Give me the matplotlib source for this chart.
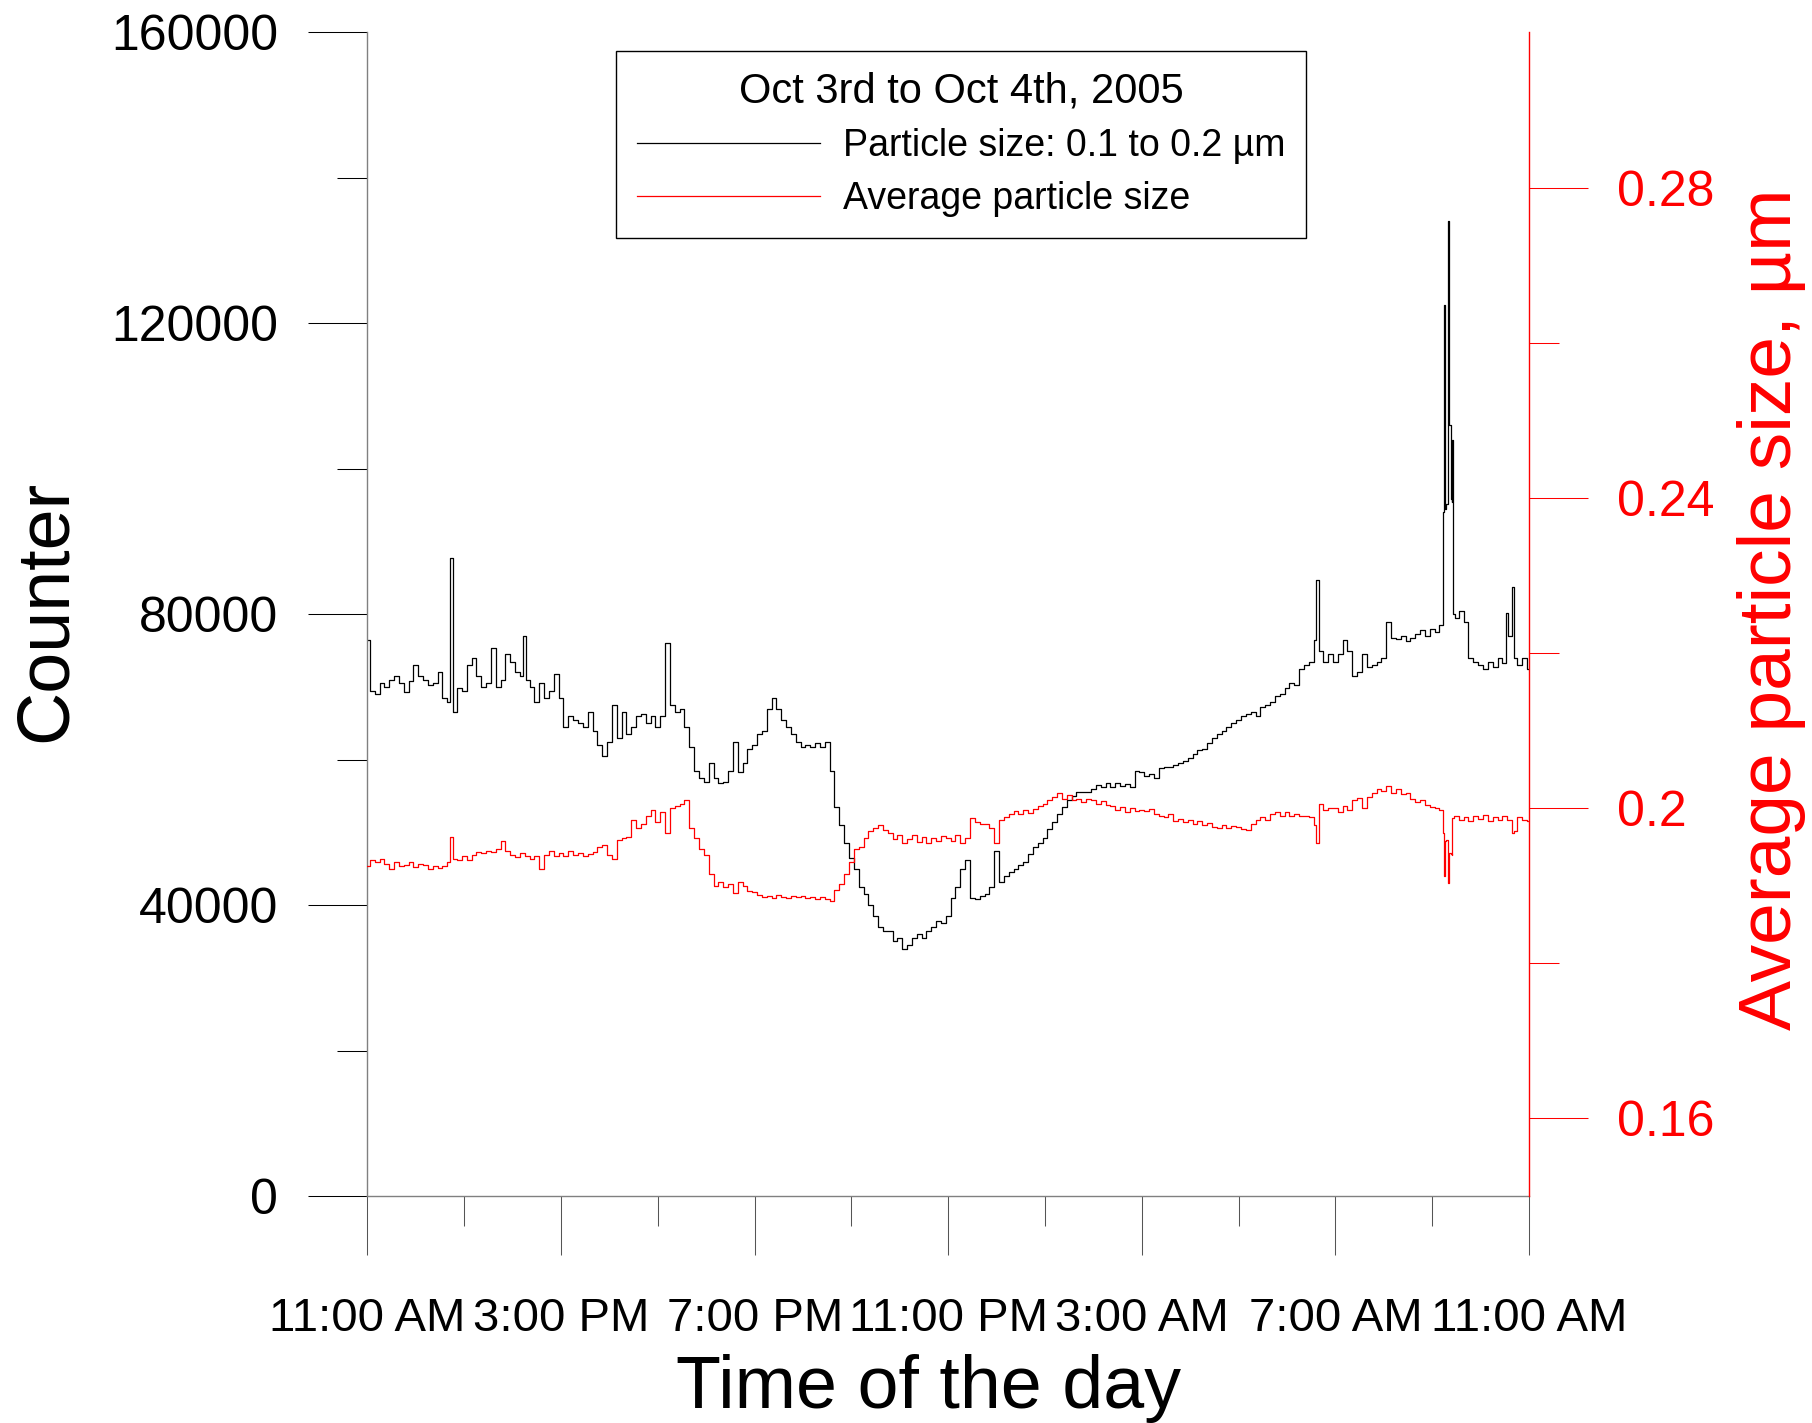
import matplotlib
matplotlib.use('Agg')
import matplotlib.pyplot as plt
import numpy as np

plt.rcParams['font.family'] = ['Liberation Sans', 'DejaVu Sans']

# hours after 11:00 AM (Oct 3rd), one reading every 6 minutes
hours = np.round(np.arange(0, 24.01, 0.1), 1)

# particle count 0.1-0.2 um, in thousands
counter_k = [
    76.5, 69.5, 69.0, 70.5, 70.0, 71.0, 71.5, 70.5, 69.3, 70.8,
    73.0, 71.5, 71.0, 70.3, 70.5, 72.0, 68.5, 68.0, 66.5, 69.8,
    69.5, 73.0, 74.0, 71.5, 70.0, 70.5, 75.3, 70.0, 71.0, 74.6,
    73.5, 72.0, 71.5, 71.0, 70.0, 68.0, 70.5, 68.5, 69.5, 71.8,
    68.5, 64.5, 66.0, 65.5, 65.0, 64.5, 66.5, 64.0, 62.0, 60.5,
    62.5, 67.5, 63.0, 66.5, 63.5, 64.5, 66.0, 66.3, 65.0, 66.0,
    64.5, 66.0, 76.0, 67.5, 66.5, 67.0, 64.5, 61.8, 58.5, 57.5,
    57.0, 59.5, 57.5, 56.8, 57.0, 58.5, 62.5, 58.3, 59.5, 61.5,
    62.0, 63.5, 64.0, 67.0, 68.5, 67.0, 65.5, 64.5, 63.5, 62.5,
    61.8, 62.0, 61.8, 62.3, 61.7, 62.5, 58.5, 53.5, 51.0, 48.5,
    46.5, 45.0, 42.5, 41.5, 40.0, 38.5, 37.0, 36.5, 36.5, 35.0,
    35.5, 34.0, 34.5, 35.5, 36.0, 35.5, 36.5, 37.0, 37.8, 37.5,
    38.5, 41.0, 42.5, 45.0, 46.2, 41.0, 40.8, 41.2, 41.5, 42.5,
    47.5, 43.2, 44.0, 44.5, 45.0, 45.5, 46.0, 47.0, 48.0, 48.5,
    49.3, 50.5, 51.5, 52.5, 53.5, 54.5, 55.0, 55.5, 55.5, 55.6,
    56.0, 56.5, 56.3, 56.8, 56.3, 56.8, 56.4, 56.6, 56.2, 58.5,
    58.3, 57.8, 58.0, 57.5, 58.8, 59.0, 59.0, 59.3, 59.6, 59.8,
    60.3, 60.8, 61.3, 61.5, 62.3, 63.0, 63.6, 64.0, 64.5, 65.0,
    65.5, 66.0, 66.3, 66.5, 66.0, 67.3, 67.5, 68.0, 68.7, 69.0,
    69.8, 70.5, 70.3, 72.5, 73.0, 73.5, 76.5, 75.0, 73.5, 74.5,
    73.5, 74.5, 76.5, 75.0, 71.5, 72.0, 74.5, 72.8, 73.0, 73.5,
    74.0, 78.9, 76.8, 76.6, 77.0, 76.3, 76.8, 77.3, 77.8, 77.0,
    78.0, 77.5, 78.5, 95.2, 95.8, 79.5, 80.5, 79.0, 74.0, 73.5,
    73.0, 72.5, 73.5, 72.8, 74.0, 73.3, 77.0, 74.0, 73.0, 74.0,
    72.5,
]

# short spikes between the regular readings
spike_hours = [1.73, 3.24, 19.61, 22.24, 22.26, 22.28, 22.34, 22.36, 22.40, 22.42, 22.44, 23.54, 23.69]
spike_k = [87.7, 77.0, 84.7, 94.0, 122.5, 94.5, 134.1, 106.0, 95.5, 104.0, 80.0, 80.2, 83.7]

# average particle size, um
avg_size = [
    0.1925, 0.1933, 0.1930, 0.1934, 0.1928, 0.1922, 0.1930, 0.1925, 0.1927, 0.1931,
    0.1924, 0.1928, 0.1927, 0.1922, 0.1925, 0.1923, 0.1926, 0.1930, 0.1935, 0.1933,
    0.1938, 0.1933, 0.1940, 0.1944, 0.1942, 0.1945, 0.1943, 0.1948, 0.1958, 0.1945,
    0.1940, 0.1937, 0.1942, 0.1938, 0.1935, 0.1938, 0.1922, 0.1940, 0.1945, 0.1938,
    0.1942, 0.1938, 0.1945, 0.1940, 0.1942, 0.1938, 0.1941, 0.1944, 0.1950, 0.1952,
    0.1940, 0.1935, 0.1959, 0.1962, 0.1963, 0.1985, 0.1975, 0.1980, 0.1990, 0.1998,
    0.1982, 0.1995, 0.1968, 0.2000, 0.2003, 0.2005, 0.2011, 0.1975, 0.1962, 0.1948,
    0.1940, 0.1915, 0.1900, 0.1905, 0.1898, 0.1902, 0.1890, 0.1905, 0.1900, 0.1893,
    0.1892, 0.1888, 0.1885, 0.1887, 0.1884, 0.1888, 0.1886, 0.1884, 0.1887, 0.1885,
    0.1887, 0.1884, 0.1886, 0.1883, 0.1886, 0.1883, 0.1880, 0.1895, 0.1902, 0.1915,
    0.1930, 0.1948, 0.1950, 0.1962, 0.1970, 0.1975, 0.1978, 0.1972, 0.1968, 0.1960,
    0.1965, 0.1955, 0.1960, 0.1966, 0.1957, 0.1963, 0.1955, 0.1962, 0.1958, 0.1964,
    0.1962, 0.1958, 0.1965, 0.1955, 0.1962, 0.1987, 0.1982, 0.1980, 0.1979, 0.1975,
    0.1955, 0.1985, 0.1988, 0.1993, 0.1996, 0.1992, 0.1998, 0.1994, 0.1999, 0.2003,
    0.2005, 0.2010, 0.2014, 0.2020, 0.2012, 0.2017, 0.2010, 0.2012, 0.2008, 0.2012,
    0.2010, 0.2006, 0.2009, 0.2004, 0.2003, 0.1998, 0.2002, 0.1995, 0.2000, 0.1996,
    0.1998, 0.1996, 0.1999, 0.1993, 0.1990, 0.1988, 0.1992, 0.1984, 0.1986, 0.1982,
    0.1985, 0.1980, 0.1983, 0.1978, 0.1981, 0.1976, 0.1975, 0.1978, 0.1974, 0.1977,
    0.1976, 0.1973, 0.1972, 0.1980, 0.1985, 0.1988, 0.1985, 0.1992, 0.1995, 0.1990,
    0.1995, 0.1990, 0.1992, 0.1990, 0.1990, 0.1988, 0.1978, 0.2005, 0.1998, 0.2000,
    0.2000, 0.1995, 0.2003, 0.1998, 0.2010, 0.2013, 0.2000, 0.2015, 0.2020, 0.2025,
    0.2022, 0.2028, 0.2020, 0.2025, 0.2018, 0.2020, 0.2012, 0.2008, 0.2010, 0.2004,
    0.2002, 0.2000, 0.1998, 0.1959, 0.1941, 0.1990, 0.1985, 0.1988, 0.1983, 0.1990,
    0.1986, 0.1991, 0.1984, 0.1989, 0.1985, 0.1990, 0.1985, 0.1970, 0.1988, 0.1985,
    0.1983,
]

dip_hours = [1.73, 19.61, 22.23, 22.26, 22.28, 22.34, 22.37, 22.41, 22.42, 23.68]
dip_size = [0.1963, 0.1955, 0.1968, 0.1912, 0.1958, 0.1903, 0.1942, 0.1940, 0.1987, 0.1968]

time_labels = ['11:00 AM', '3:00 PM', '7:00 PM', '11:00 PM', '3:00 AM', '7:00 AM', '11:00 AM']


def merge(t_main, v_main, t_extra, v_extra):
    t = np.concatenate([t_main, t_extra])
    v = np.concatenate([v_main, v_extra])
    order = np.argsort(t, kind='stable')
    return t[order], v[order]


t_cnt, cnt = merge(hours, np.array(counter_k) * 1000, spike_hours, np.array(spike_k) * 1000)
t_avg, avg = merge(hours, np.array(avg_size), dip_hours, np.array(dip_size))

fig = plt.figure(figsize=(18.12, 14.23), dpi=100)
ax = fig.add_axes([0.2028, 0.1595, 0.6410, 0.8177])
ax2 = ax.twinx()

l1, = ax.plot(t_cnt, cnt, color='black', lw=0.9, drawstyle='steps-mid')
l2, = ax2.plot(t_avg, avg, color='#ff0000', lw=0.9, drawstyle='steps-mid')

ax.set_xlim(0, 24)
ax.set_ylim(0, 160000)
ax2.set_ylim(0.15, 0.30)

# x axis
ax.set_xticks(np.arange(0, 25, 4))
ax.set_xticklabels(time_labels, fontsize=34)
ax.set_xticks(np.arange(2, 24, 4), minor=True)
ax.tick_params(axis='x', which='major', direction='out', length=42.5, width=0.75,
               color='#555555', pad=30)
ax.tick_params(axis='x', which='minor', direction='out', length=21.5, width=0.75,
               color='#555555')

# left axis
ax.set_yticks(np.arange(0, 160001, 40000))
ax.set_yticklabels([str(v) for v in range(0, 160001, 40000)], fontsize=36)
ax.set_yticks(np.arange(20000, 160000, 40000), minor=True)
ax.tick_params(axis='y', which='major', direction='out', length=42.5, width=0.75,
               color='black', pad=22)
ax.tick_params(axis='y', which='minor', direction='out', length=21.5, width=0.75,
               color='black')

# right axis
ax2.set_yticks([0.16, 0.20, 0.24, 0.28])
ax2.set_yticklabels(['0.16', '0.2', '0.24', '0.28'], fontsize=36)
ax2.set_yticks([0.18, 0.22, 0.26], minor=True)
ax2.tick_params(axis='y', which='major', direction='out', length=42.5, width=0.75,
                color='#ff0000', labelcolor='#ff0000', pad=21)
ax2.tick_params(axis='y', which='minor', direction='out', length=21.5, width=0.75,
                color='#ff0000')

for s in ['top', 'right']:
    ax.spines[s].set_visible(False)
for s in ['left', 'bottom']:
    ax.spines[s].set_color('#808080')
    ax.spines[s].set_linewidth(1.0)
for s in ['top', 'left', 'bottom']:
    ax2.spines[s].set_visible(False)
ax2.spines['right'].set_color('#ff0000')
ax2.spines['right'].set_linewidth(1.0)

fig.text(46 / 1812, 0.5706, 'Counter', rotation=90, ha='center', va='center', fontsize=53)
fig.text(1771 / 1812, 0.572, 'Average particle size, µm', rotation=90, ha='center',
         va='center', fontsize=54, color='#ff0000')
fig.text(0.5127, 15 / 1423, 'Time of the day', ha='center', va='baseline', fontsize=53)

leg = ax2.legend([l1, l2], ['Particle size: 0.1 to 0.2 µm', 'Average particle size'],
                 title='Oct 3rd to Oct 4th, 2005', loc='upper left',
                 bbox_to_anchor=(616 / 1812, (1423 - 51) / 1423),
                 bbox_transform=fig.transFigure, fontsize=27, title_fontsize=30,
                 frameon=True, fancybox=False, edgecolor='black', framealpha=1,
                 handlelength=4.9, handletextpad=0.6, labelspacing=0.45,
                 borderpad=0.55, borderaxespad=0)
leg.get_frame().set_linewidth(1.0)

fig.savefig('out.png', dpi=100)
